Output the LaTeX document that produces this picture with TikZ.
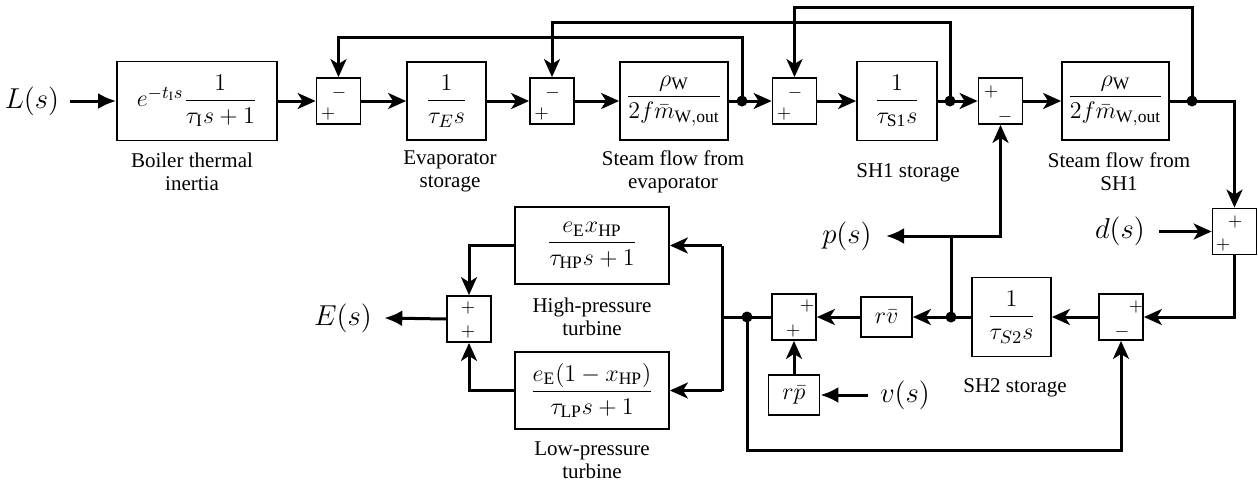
\documentclass[tikz,border=0pt]{standalone}
\usepackage{amsmath}
\usepackage{fontspec}
\setmainfont{Liberation Serif}
\usetikzlibrary{arrows.meta}
\tikzset{
  blk/.style={draw, line width=0.9pt, inner sep=0pt, font=\fontsize{12.5}{14}\selectfont},
  sumb/.style={draw, line width=0.9pt, minimum width=22pt, minimum height=23pt, inner sep=0pt},
  sgn/.style={inner sep=0pt, font=\fontsize{9}{10}\selectfont},
  sig/.style={line width=1.5pt, -{Stealth[length=9pt,width=8pt,inset=2.5pt]}},
  sigL/.style={line width=1.5pt, -{Latex[length=9pt,width=8pt]}},
  wire/.style={line width=1.5pt},
  dotn/.style={circle, fill=black, inner sep=0pt, minimum size=5.5pt},
  lab/.style={align=center, inner sep=0pt, font=\fontsize{10.5}{11.5}\selectfont},
  var/.style={inner sep=0pt, font=\fontsize{13.5}{15}\selectfont}
}
\begin{document}
\begin{tikzpicture}[x=0.5pt, y=-0.5pt]
\useasboundingbox (0,0) rectangle (1258,483);
% ---------- top row ----------
\node[var] (Ls) at (32,101) {$L(s)$};
\node[blk, minimum width=80pt, minimum height=39.5pt] (boiler) at (197,101) {$e^{-t_\mathrm{I}s}\dfrac{1}{\tau_\mathrm{I}s+1}$};
\node[sumb] (sum1) at (338.5,101) {};
\node[blk, minimum width=39.5pt, minimum height=39pt] (evap) at (446.5,101) {$\dfrac{1}{\tau_E s}$};
\node[sumb] (sum2) at (552,101) {};
\node[blk, minimum width=54pt, minimum height=39pt] (stE) at (674,101) {$\dfrac{\rho_\mathrm{W}}{2f\bar{m}_\mathrm{W,out}}$};
\node[dotn] (d1) at (742,101) {};
\node[sumb] (sum3) at (794.5,101) {};
\node[blk, minimum width=40pt, minimum height=39.5pt] (SH1) at (897,101) {$\dfrac{1}{\tau_\mathrm{S1}s}$};
\node[dotn] (d2) at (950,101) {};
\node[sumb] (sum4) at (1000.5,101) {};
\node[blk, minimum width=53.5pt, minimum height=39pt] (stS) at (1115.5,101) {$\dfrac{\rho_\mathrm{W}}{2f\bar{m}_\mathrm{W,out}}$};
\node[dotn] (d3) at (1192,101) {};
% signs top row
\node[sgn] (s1a) at (339,93) {$-$};
\node[sgn] (s1b) at (328,114) {$+$};
\node[sgn] (s2a) at (552.5,93) {$-$};
\node[sgn] (s2b) at (541.5,114) {$+$};
\node[sgn] (s3a) at (795,93) {$-$};
\node[sgn] (s3b) at (784,114) {$+$};
\node[sgn] (s4a) at (991,92) {$+$};
\node[sgn] (s4b) at (1005,117) {$-$};
% labels top row
\node[lab] (l1) at (192,171.5) {Boiler thermal\\inertia};
\node[lab] (l2) at (450,171.5) {Evaporator\\storage};
\node[lab] (l3) at (673,171.5) {Steam flow from\\evaporator};
\node[lab] (l4) at (908,173) {SH1 storage};
\node[lab] (l5) at (1119,171.5) {Steam flow from\\SH1};
% ---------- right column ----------
\node[sumb] (sum5) at (1234.5,231.5) {};
\node[sgn] (s5a) at (1235,222) {$+$};
\node[sgn] (s5b) at (1223,245) {$+$};
\node[var] (ds) at (1120,231.5) {$d(s)$};
% ---------- bottom row ----------
\node[sumb] (sum6) at (1121,317) {};
\node[sgn] (s6a) at (1136,307) {$+$};
\node[sgn] (s6b) at (1122,332) {$-$};
\node[blk, minimum width=39.5pt, minimum height=39.5pt] (SH2) at (1011.5,317) {$\dfrac{1}{\tau_{S2}s}$};
\node[lab] (l8) at (1015,388) {SH2 storage};
\node[dotn] (d4) at (951,317) {};
\node[blk, minimum width=25.5pt, minimum height=20pt] (rv) at (886.5,317) {$r\bar{v}$};
\node[var] (ps) at (847,236) {$p(s)$};
\node[sumb] (sum7) at (794,317) {};
\node[sgn] (s7a) at (807,306) {$+$};
\node[sgn] (s7b) at (793,331) {$+$};
\node[blk, minimum width=25.5pt, minimum height=20pt] (rp) at (794,395) {$r\bar{p}$};
\node[var] (vs) at (905,395) {$v(s)$};
\node[dotn] (d5) at (747,317) {};
\node[blk, minimum width=77pt, minimum height=38.5pt] (HP) at (592,245.5) {$\dfrac{e_\mathrm{E}x_\mathrm{HP}}{\tau_\mathrm{HP}s+1}$};
\node[blk, minimum width=77pt, minimum height=38.5pt] (LP) at (592,390.5) {$\dfrac{e_\mathrm{E}(1-x_\mathrm{HP})}{\tau_\mathrm{LP}s+1}$};
\node[lab] (l6) at (592,316.5) {High-pressure\\turbine};
\node[lab] (l7) at (592,460.5) {Low-pressure\\turbine};
\node[sumb] (sum8) at (469,319) {};
\node[sgn] (s8a) at (468,308) {$+$};
\node[sgn] (s8b) at (468,332) {$+$};
\node[var] (Es) at (343,318) {$E(s)$};
% coordinates
\coordinate (t1) at (742,37);
\coordinate (t2) at (950,22);
\coordinate (t3) at (1192,7);
\coordinate (t4) at (951,236);
\coordinate (j) at (722,317);
\coordinate (jh) at (722,245.5);
\coordinate (jl) at (722,390.5);
\coordinate (b1) at (747,450);
% ---------- connectors ----------
\draw[sigL] ([xshift=5pt]Ls.east) -- (boiler.west);
\draw[sig] (boiler) -- (sum1);
\draw[sig] (sum1) -- (evap);
\draw[sig] (evap) -- (sum2);
\draw[sig] (sum2) -- (stE);
\draw[sig] (stE) -- (sum3);
\draw[sig] (sum3) -- (SH1);
\draw[sig] (SH1) -- (sum4);
\draw[sig] (sum4) -- (stS);
\draw[sig] (stS.east) -| (sum5.north);
\draw[sig] (d1.center) -- (t1) -| (sum1.north);
\draw[sig] (d2.center) -- (t2) -| (sum2.north);
\draw[sig] (d3.center) -- (t3) -| (sum3.north);
\draw[sig] ([xshift=7pt]ds.east) -- (sum5.west);
\draw[sig] (sum5.south) |- (sum6.east);
\draw[sig] (sum6) -- (SH2);
\draw[sig] (SH2) -- (rv);
\draw[wire] (d4.center) -- (t4);
\draw[sig] (t4) -| (sum4.south);
\draw[sigL] (t4) -- ([xshift=7pt]ps.east);
\draw[sig] (rv) -- (sum7);
\draw[sig] (rp) -- (sum7);
\draw[sigL] ([xshift=-6pt]vs.west) -- (rp.east);
\draw[wire] (sum7.west) -- (j);
\draw[wire] (jh) -- (jl);
\draw[sig] (jh) -- (HP.east);
\draw[sig] (jl) -- (LP.east);
\draw[sig] (d5.center) -- (b1) -| (sum6.south);
\draw[sig] (HP.west) -| (sum8.north);
\draw[sig] (LP.west) -| (sum8.south);
\draw[sigL] (sum8.west) -- ([xshift=6pt]Es.east);
\end{tikzpicture}
\end{document}
